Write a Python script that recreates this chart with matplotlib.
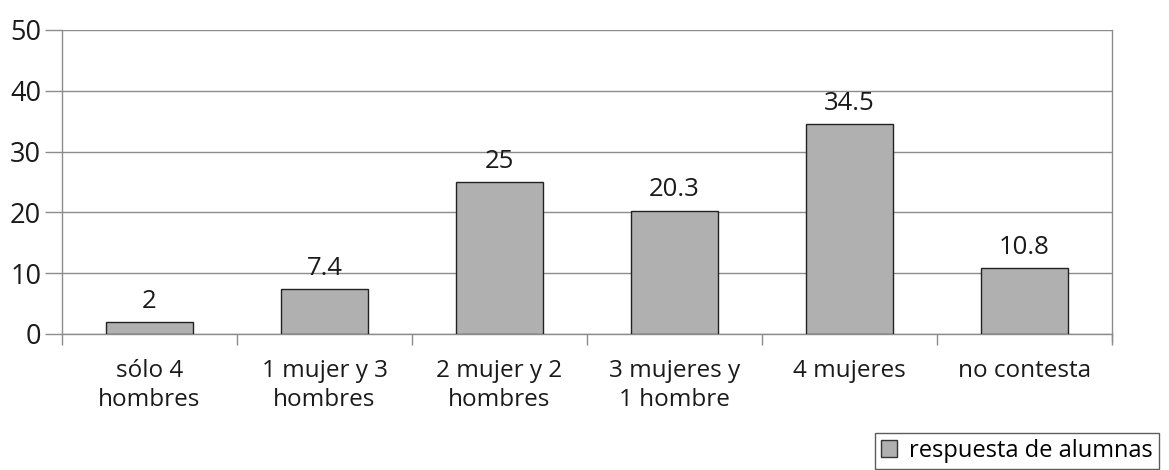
import matplotlib
matplotlib.use('Agg')
import matplotlib.pyplot as plt
from matplotlib.patches import Patch

plt.rcParams['font.family'] = ['Open Sans', 'DejaVu Sans']

categories = ['sólo 4\nhombres', '1 mujer y 3\nhombres', '2 mujer y 2\nhombres',
              '3 mujeres y\n1 hombre', '4 mujeres', 'no contesta']
values = [2, 7.4, 25, 20.3, 34.5, 10.8]
value_labels = ['2', '7.4', '25', '20.3', '34.5', '10.8']
series_name = 'respuesta de alumnas'

BAR_COLOR = '#b0b0b0'
GRID_COLOR = '#8c8c8c'
TEXT_COLOR = '#1a1a1a'

fig = plt.figure(figsize=(11.69, 4.70), dpi=100)
ax = fig.add_axes([62 / 1169, 1 - 334 / 470, 1050 / 1169, 304 / 470])

x = list(range(len(categories)))
ax.bar(x, values, width=0.5, color=BAR_COLOR, edgecolor='#222222', linewidth=1.0, zorder=3)

for xi, v, lab in zip(x, values, value_labels):
    ax.annotate(lab, (xi, v), xytext=(0, 6), textcoords='offset points',
                ha='center', va='bottom', fontsize=18.5, color=TEXT_COLOR)

ax.set_xlim(-0.5, len(categories) - 0.5)
ax.set_ylim(0, 50)
ax.set_yticks(range(0, 51, 10))
ax.yaxis.grid(True, color=GRID_COLOR, linewidth=1.0, zorder=0)
ax.tick_params(axis='y', length=12, width=1, color=GRID_COLOR, labelsize=19.5,
               labelcolor=TEXT_COLOR, pad=3)

# category ticks sit between bars
ax.set_xticks([i - 0.5 for i in range(len(categories) + 1)])
ax.set_xticklabels([])
ax.set_xticks(x, minor=True)
ax.set_xticklabels(categories, minor=True, fontsize=17.5, color=TEXT_COLOR, linespacing=1.25)
ax.tick_params(axis='x', which='major', length=8, width=1, color=GRID_COLOR)
ax.tick_params(axis='x', which='minor', length=0, pad=18)

for side in ['left', 'right', 'bottom']:
    ax.spines[side].set_color(GRID_COLOR)
    ax.spines[side].set_linewidth(1.0)
ax.spines['top'].set_visible(False)
ax.spines['right'].set_bounds(-1.2, 50)
ax.spines['right'].set_clip_on(False)

handle = Patch(facecolor=BAR_COLOR, edgecolor='#333333', label=series_name)
lgd = fig.legend(handles=[handle], loc='upper left', bbox_to_anchor=(875 / 1169, 1 - 433 / 470),
                 fontsize=17, frameon=True, fancybox=False, edgecolor='#333333',
                 handlelength=0.7, handleheight=0.7, handletextpad=0.5, borderpad=0.25,
                 borderaxespad=0)
lgd.get_frame().set_linewidth(1.0)

fig.savefig('out.png', dpi=100)
